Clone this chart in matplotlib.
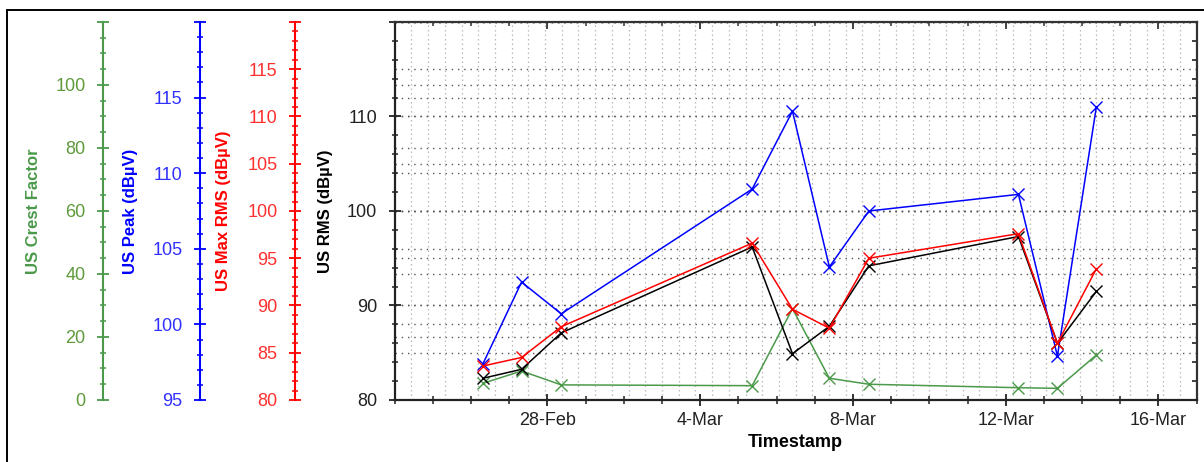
import matplotlib
matplotlib.use('Agg')
import matplotlib.pyplot as plt
import matplotlib.dates as mdates
from matplotlib.ticker import MultipleLocator, FixedLocator
from matplotlib.patches import Rectangle
import pandas as pd

plt.rcParams['font.family'] = ['Liberation Sans', 'DejaVu Sans']

# readings
timestamps = pd.to_datetime([
    '2019-02-26 07:30', '2019-02-27 07:45', '2019-02-28 08:40',
    '2019-03-05 08:40', '2019-03-06 10:00', '2019-03-07 09:10',
    '2019-03-08 10:00', '2019-03-12 08:00', '2019-03-13 08:30',
    '2019-03-14 09:00'])
rms = [82.3, 83.25, 87.1, 96.2, 84.9, 87.8, 94.2, 97.3, 86.0, 91.5]
max_rms = [83.6, 84.5, 87.75, 96.6, 89.6, 87.6, 95.0, 97.6, 86.0, 93.9]
peak = [97.4, 102.8, 100.7, 108.95, 114.1, 103.8, 107.5, 108.6, 97.9, 114.4]
crest = [5.3, 9.2, 4.8, 4.55, 29.0, 6.9, 5.0, 3.9, 3.7, 14.3]

x_start = pd.Timestamp('2019-02-24')
x_end = pd.Timestamp('2019-03-17')
major_dates = pd.to_datetime(['2019-02-28', '2019-03-04', '2019-03-08',
                              '2019-03-12', '2019-03-16'])
major_labels = ['28-Feb', '4-Mar', '8-Mar', '12-Mar', '16-Mar']

GREEN = '#4a9a4a'
GREEN_TXT = '#5f9a3c'
BLUE = '#0000ff'
BLUE_TXT = '#3030ff'
RED = '#ff0000'
RED_TXT = '#ff3030'

fig = plt.figure(figsize=(12.04, 4.62), dpi=100)
fig.add_artist(Rectangle((7 / 1204, -0.1), 1.2, 1.1 - 10 / 462,
                         transform=fig.transFigure, fill=False,
                         lw=1.4, ec='black'))

ax = fig.add_axes([0.3278, 0.1342, 0.6661, 0.8182])


def ticks_with_blank_top(lo, hi, step):
    vals = list(range(lo, hi + 1, step))
    labels = [str(v) for v in vals[:-1]] + ['']
    return vals, labels


# extra y axes, each with own spine on the left
def side_axis(pos, color, txtcolor, lo, hi, major, minor, label, pad):
    t = ax.twinx()
    t.yaxis.set_ticks_position('left')
    t.yaxis.set_label_position('left')
    t.spines['left'].set_position(('axes', pos))
    t.spines['left'].set_visible(True)
    t.spines['left'].set_color(color)
    t.spines['left'].set_linewidth(1.5)
    for s in ['right', 'top', 'bottom']:
        t.spines[s].set_visible(False)
    t.yaxis.set_minor_locator(MultipleLocator(minor))
    vals, labels = ticks_with_blank_top(lo, hi, major)
    t.set_yticks(vals, labels=labels)
    t.set_ylim(lo, hi)
    t.tick_params(axis='y', which='major', direction='inout', length=9,
                  width=1.3, color=color, labelcolor=txtcolor,
                  labelsize=13, pad=8)
    t.tick_params(axis='y', which='minor', direction='inout', length=5,
                  width=1.1, color=color)
    t.set_ylabel(label, color=color, fontsize=12, fontweight='bold',
                 labelpad=pad)
    t.grid(True, axis='y', which='major', color='#555555',
           linestyle=(0, (1, 3.5)), lw=1.0)
    return t


ax_crest = side_axis(-0.3637, GREEN, GREEN_TXT, 0, 120, 20, 5,
                     'US Crest Factor', 10)
ax_peak = side_axis(-0.2428, BLUE, BLUE_TXT, 95, 120, 5, 1,
                    'US Peak (dB\u00b5V)', 10)
ax_max = side_axis(-0.1243, RED, RED_TXT, 80, 120, 5, 1,
                   'US Max RMS (dB\u00b5V)', 12)

# main axis sits on top so the series draw over every grid
ax.set_zorder(10)
ax.patch.set_visible(False)
vals, labels = ticks_with_blank_top(80, 120, 10)
ax.set_yticks(vals, labels=labels)
ax.yaxis.set_minor_locator(MultipleLocator(2))
ax.set_ylim(80, 120)
ax.set_ylabel('US RMS (dB\u00b5V)', fontsize=12, fontweight='bold',
              labelpad=10)
ax.tick_params(axis='y', which='major', direction='inout', length=9,
               width=1.3, labelsize=13, pad=8, colors='#222222')
ax.tick_params(axis='y', which='minor', direction='inout', length=5,
               width=1.1, color='#222222')
ax.grid(True, axis='y', which='major', color='#555555',
        linestyle=(0, (1, 3.5)), lw=1.0)

ax.set_xlim(x_start, x_end)
ax.xaxis.set_major_locator(FixedLocator(mdates.date2num(major_dates)))
ax.xaxis.set_major_formatter(plt.FixedFormatter(major_labels))
ax.xaxis.set_minor_locator(mdates.DayLocator())
ax.tick_params(axis='x', which='major', direction='inout', length=9,
               width=1.3, labelsize=13, pad=4, colors='#222222')
ax.tick_params(axis='x', which='minor', direction='inout', length=6,
               width=1.1, color='#222222')
ax.set_xlabel('Timestamp', fontsize=13, fontweight='bold', labelpad=4)

# light vertical dotted grid
for k in range(1, 48):
    ax.plot([k / 48, k / 48], [0, 1], color='#b8b8b8',
            linestyle=(0, (1.2, 2.4)), lw=0.9,
            transform=ax.transAxes, zorder=0.5)

for s in ['left', 'bottom']:
    ax.spines[s].set_linewidth(1.6)
    ax.spines[s].set_color('#222222')
for s in ['top', 'right']:
    ax.spines[s].set_linewidth(1.6)
    ax.spines[s].set_color('#333333')

# ticks pointing inward on top and right
top = ax.secondary_xaxis('top')
top.xaxis.set_major_locator(FixedLocator(mdates.date2num(major_dates)))
top.xaxis.set_minor_locator(mdates.DayLocator())
top.tick_params(axis='x', which='major', direction='in', length=5, width=1.3,
                labeltop=False, color='#333333')
top.tick_params(axis='x', which='minor', direction='in', length=3, width=1.1,
                color='#333333')
top.spines['top'].set_visible(False)

right = ax.secondary_yaxis('right')
right.yaxis.set_major_locator(MultipleLocator(10))
right.yaxis.set_minor_locator(MultipleLocator(2))
right.tick_params(axis='y', which='both', direction='in', length=3.5,
                  width=1.3, labelright=False, color='#333333')
right.spines['right'].set_visible(False)

mk = dict(marker='x', markersize=9, markeredgewidth=1.0, lw=1.1)
ax.plot(timestamps, crest, color=GREEN, transform=ax_crest.transData,
        zorder=2, **mk)
ax.plot(timestamps, peak, color=BLUE, transform=ax_peak.transData,
        zorder=3, **mk)
ax.plot(timestamps, rms, color='black', zorder=4, **mk)
ax.plot(timestamps, max_rms, color=RED, transform=ax_max.transData,
        zorder=5, **mk)

fig.savefig('out.png', dpi=100, facecolor='white')
